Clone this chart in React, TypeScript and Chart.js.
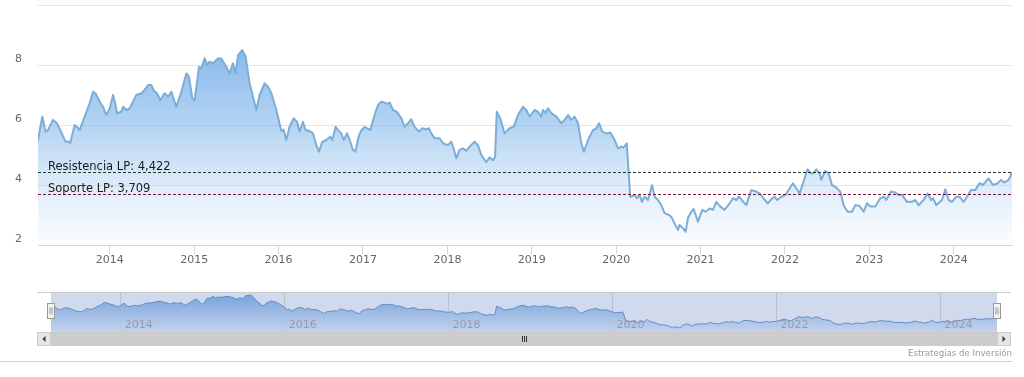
import React, { useEffect, useRef } from "react";
import { Chart, registerables } from "chart.js";

Chart.register(...registerables);

// Closing prices: [month of year (0-12), price]
const p2013: [number, number][] = [[1.79,5.50],[2.40,6.28],[2.87,5.78],[3.21,5.83],[3.92,6.17],[4.49,6.06],[5.11,5.75],[5.72,5.44],[6.10,5.45],[6.38,5.40],[7.00,6.00],[7.48,5.90],[7.71,5.83],[8.42,6.28],[9.13,6.72],[9.61,7.11],[9.98,7.05],[10.55,6.78],[11.03,6.61],[11.50,6.33]];
const p2014: [number, number][] = [[0.0,6.56],[0.46,7.00],[0.78,6.72],[1.02,6.39],[1.63,6.44],[1.88,6.61],[2.35,6.50],[2.82,6.55],[3.30,6.78],[3.77,7.00],[4.48,7.06],[4.95,7.17],[5.43,7.33],[5.90,7.33],[6.37,7.11],[6.71,7.06],[7.18,6.83],[7.79,7.06],[8.28,6.94],[8.75,7.11],[9.46,6.61],[10.17,7.11],[10.88,7.72],[11.26,7.61],[11.73,6.89]];
const p2015: [number, number][] = [[0.06,6.83],[0.68,7.94],[1.01,7.89],[1.48,8.22],[1.86,8.00],[2.19,8.11],[2.67,8.06],[3.38,8.22],[3.85,8.22],[4.56,7.94],[5.03,7.72],[5.51,8.06],[5.89,7.72],[6.23,8.33],[6.84,8.50],[7.31,8.28],[7.88,7.39],[8.36,6.94],[8.83,6.50],[9.30,7.00],[10.01,7.39],[10.50,7.28],[10.97,7.06],[11.68,6.50]];
const p2016: [number, number][] = [[0.38,5.80],[0.71,5.85],[1.09,5.50],[1.56,5.94],[2.13,6.22],[2.62,6.11],[2.99,5.78],[3.47,6.11],[3.84,5.83],[4.41,5.80],[4.89,5.72],[5.36,5.33],[5.74,5.11],[6.21,5.44],[6.78,5.50],[7.35,5.61],[7.64,5.50],[8.11,5.94],[8.45,5.83],[8.92,5.72],[9.25,5.50],[9.73,5.72],[10.10,5.50],[10.58,5.17],[10.91,5.11],[11.44,5.67],[11.81,5.83]];
const p2017: [number, number][] = [[0.23,5.94],[1.04,5.83],[1.65,6.33],[2.13,6.67],[2.60,6.78],[3.07,6.75],[3.41,6.70],[3.78,6.75],[4.27,6.50],[4.83,6.44],[5.45,6.22],[5.92,5.94],[6.40,6.06],[6.87,6.19],[7.34,5.94],[7.96,5.78],[8.43,5.89],[8.91,5.85],[9.39,5.89],[9.71,5.72],[10.18,5.56],[10.89,5.56],[11.38,5.39]];
const p2018: [number, number][] = [[0.09,5.33],[0.55,5.44],[0.80,5.28],[1.27,4.89],[1.73,5.17],[2.22,5.22],[2.69,5.14],[3.16,5.28],[3.87,5.44],[4.35,5.33],[4.82,5.00],[5.53,4.76],[6.00,4.92],[6.48,4.83],[6.78,4.92],[7.02,6.44],[7.52,6.22],[8.13,5.72],[8.84,5.89],[9.41,5.94],[10.03,6.33],[10.74,6.61],[11.21,6.50],[11.69,6.28]];
const p2019: [number, number][] = [[0.40,6.50],[0.88,6.44],[1.35,6.28],[1.59,6.50],[1.96,6.40],[2.30,6.56],[2.77,6.40],[3.48,6.28],[4.19,6.06],[4.66,6.17],[5.15,6.33],[5.62,6.17],[6.09,6.28],[6.57,6.06],[7.04,5.39],[7.42,5.11],[7.99,5.50],[8.70,5.83],[9.17,5.89],[9.56,6.06],[10.03,5.78],[10.60,5.72],[11.17,5.75],[11.78,5.50]];
const p2020: [number, number][] = [[0.26,5.22],[0.73,5.28],[1.05,5.25],[1.50,5.39],[2.00,3.60],[2.62,3.67],[2.96,3.56],[3.33,3.67],[3.67,3.44],[4.04,3.61],[4.52,3.50],[5.09,4.00],[5.46,3.61],[5.94,3.50],[6.41,3.33],[6.88,3.06],[7.50,3.00],[7.83,2.94],[8.30,2.72],[8.79,2.50],[9.01,2.67],[9.50,2.56],[9.87,2.44],[10.21,2.90],[10.68,3.11],[11.01,3.20],[11.64,2.78]];
const p2021: [number, number][] = [[0.24,3.17],[0.71,3.11],[1.28,3.22],[1.76,3.17],[2.23,3.44],[2.80,3.28],[3.41,3.17],[4.12,3.39],[4.61,3.56],[5.08,3.50],[5.46,3.61],[6.03,3.45],[6.50,3.33],[7.21,3.83],[7.68,3.80],[8.39,3.72],[8.96,3.55],[9.55,3.39],[10.18,3.55],[10.51,3.61],[10.89,3.50],[11.46,3.60]];
const p2022: [number, number][] = [[0.04,3.67],[0.51,3.83],[1.14,4.06],[1.61,3.89],[2.08,3.72],[2.56,4.06],[3.21,4.52],[3.70,4.39],[4.07,4.39],[4.45,4.52],[4.92,4.39],[5.16,4.17],[5.73,4.47],[6.20,4.39],[6.68,4.00],[7.15,3.94],[7.86,3.78],[8.33,3.33],[8.90,3.11],[9.53,3.11],[10.00,3.33],[10.61,3.30],[11.18,3.11],[11.67,3.39]];
const p2023: [number, number][] = [[0.13,3.28],[0.84,3.28],[1.55,3.56],[2.12,3.61],[2.40,3.50],[3.07,3.78],[3.68,3.75],[4.15,3.67],[4.64,3.67],[5.35,3.44],[6.06,3.44],[6.53,3.50],[7.00,3.33],[7.71,3.50],[8.28,3.72],[8.77,3.50],[9.04,3.56],[9.51,3.33],[10.32,3.50],[10.80,3.86],[11.27,3.50],[11.74,3.44]];
const p2024: [number, number][] = [[0.36,3.61],[0.82,3.61],[1.39,3.44],[1.88,3.61],[2.45,3.83],[3.06,3.83],[3.67,4.06],[4.15,4.00],[4.95,4.22],[5.58,4.00],[6.23,4.06],[6.71,4.17],[7.18,4.08],[7.80,4.17],[8.28,4.42]];

const years = [2013, 2014, 2015, 2016, 2017, 2018, 2019, 2020, 2021, 2022, 2023, 2024];
const yearlyPrices = [p2013, p2014, p2015, p2016, p2017, p2018, p2019, p2020, p2021, p2022, p2023, p2024];

const yearTicks = [2014, 2015, 2016, 2017, 2018, 2019, 2020, 2021, 2022, 2023, 2024];
const navigatorTicks = [2014, 2016, 2018, 2020, 2022, 2024];
const priceTicks = [2, 4, 6, 8, 10];

const resistance = 4.422;
const support = 3.709;
const resistanceLabel = "Resistencia LP";
const supportLabel = "Soporte LP";
const creditText = "Estrategias de Inversión";

const FONT = '"DejaVu Sans", Verdana, sans-serif';

function buildPoints() {
  const pts: { x: number; y: number }[] = [];
  years.forEach((yr, i) => {
    yearlyPrices[i].forEach(([m, v]) => pts.push({ x: yr + m / 12, y: v }));
  });
  return pts;
}

function fmt(v: number) {
  return v.toFixed(3).replace(".", ",");
}

const levelsPlugin = {
  id: "levels",
  afterDatasetsDraw(chart: any) {
    const { ctx, chartArea, scales } = chart;
    const y = scales.y;
    const draw = (v: number, color: string, text: string) => {
      const py = Math.round(y.getPixelForValue(v)) + 0.5;
      ctx.save();
      ctx.strokeStyle = color;
      ctx.lineWidth = 1;
      ctx.setLineDash([3, 2]);
      ctx.beginPath();
      ctx.moveTo(chartArea.left, py);
      ctx.lineTo(chartArea.right, py);
      ctx.stroke();
      ctx.setLineDash([]);
      ctx.fillStyle = "#1a1a1a";
      ctx.font = `11.5px ${FONT}`;
      ctx.textAlign = "left";
      ctx.textBaseline = "alphabetic";
      ctx.fillText(`${text}: ${fmt(v)}`, chartArea.left + 10, py - 3);
      ctx.restore();
    };
    draw(resistance, "#1f3a2c", resistanceLabel);
    draw(support, "#7a1235", supportLabel);
  },
};

const navigatorPlugin = {
  id: "navigatorDecor",
  afterDatasetsDraw(chart: any) {
    const { ctx, chartArea: a, scales } = chart;
    const x = scales.x;
    ctx.save();
    ctx.font = `11px ${FONT}`;
    ctx.fillStyle = "#a8a8a8";
    ctx.textAlign = "left";
    ctx.textBaseline = "alphabetic";
    navigatorTicks.forEach((t) => {
      ctx.fillText(String(t), x.getPixelForValue(t) + 4, a.bottom - 4);
    });
    ctx.fillStyle = "rgba(102,133,194,0.3)";
    ctx.fillRect(a.left, a.top, a.right - a.left, a.bottom - a.top);
    ctx.restore();
  },
  afterDraw(chart: any) {
    const { ctx, chartArea: a } = chart;
    const left = a.left - 14;
    const right = a.right + 14;
    ctx.save();
    ctx.strokeStyle = "#cccccc";
    ctx.lineWidth = 1;
    ctx.beginPath();
    ctx.moveTo(left, a.top + 0.5);
    ctx.lineTo(right, a.top + 0.5);
    ctx.stroke();
    const sTop = a.bottom;
    const sH = 14;
    ctx.fillStyle = "#f2f2f2";
    ctx.fillRect(left, sTop, right - left, sH);
    ctx.fillStyle = "#cccccc";
    ctx.fillRect(a.left, sTop, a.right - a.left, sH);
    const drawButton = (bx: number, dir: number) => {
      ctx.fillStyle = "#e6e6e6";
      ctx.fillRect(bx, sTop, 14, sH);
      ctx.strokeStyle = "#cccccc";
      ctx.strokeRect(bx + 0.5, sTop + 0.5, 13, sH - 1);
      ctx.fillStyle = "#333333";
      const cx = bx + 7;
      const cy = sTop + 7;
      ctx.beginPath();
      ctx.moveTo(cx - 1.5 * dir, cy);
      ctx.lineTo(cx + 1.5 * dir, cy - 3);
      ctx.lineTo(cx + 1.5 * dir, cy + 3);
      ctx.closePath();
      ctx.fill();
    };
    drawButton(left, 1);
    drawButton(a.right, -1);
    const gx = Math.round((a.left + a.right) / 2);
    ctx.strokeStyle = "#333333";
    for (let k = -2; k <= 2; k += 2) {
      ctx.beginPath();
      ctx.moveTo(gx + k + 0.5, sTop + 4);
      ctx.lineTo(gx + k + 0.5, sTop + 10);
      ctx.stroke();
    }
    const drawHandle = (hx: number) => {
      const hl = Math.round(hx) - 3.5;
      const ht = a.top + 11.5;
      ctx.fillStyle = "#f2f2f2";
      ctx.fillRect(hl, ht, 7, 15);
      ctx.strokeStyle = "#999999";
      ctx.strokeRect(hl, ht, 7, 15);
      ctx.beginPath();
      ctx.moveTo(hl + 2.5, ht + 4);
      ctx.lineTo(hl + 2.5, ht + 11);
      ctx.moveTo(hl + 4.5, ht + 4);
      ctx.lineTo(hl + 4.5, ht + 11);
      ctx.stroke();
    };
    drawHandle(a.left);
    drawHandle(a.right);
    ctx.fillStyle = "#999999";
    ctx.font = `8.6px ${FONT}`;
    ctx.textAlign = "right";
    ctx.textBaseline = "alphabetic";
    ctx.fillText(creditText, right + 1, sTop + 24);
    ctx.strokeStyle = "#cfd3da";
    ctx.beginPath();
    ctx.moveTo(0, sTop + 29.5);
    ctx.lineTo(right + 1, sTop + 29.5);
    ctx.stroke();
    ctx.restore();
  },
};

export default function App() {
  const mainRef = useRef<HTMLCanvasElement>(null);
  const navRef = useRef<HTMLCanvasElement>(null);

  useEffect(() => {
    const points = buildPoints();
    const xMin = points[0].x;
    const xMax = points[points.length - 1].x;

    const main = new Chart(mainRef.current as HTMLCanvasElement, {
      type: "line",
      data: {
        datasets: [
          {
            data: points,
            borderColor: "#7aaed9",
            borderWidth: 2,
            borderJoinStyle: "round",
            pointRadius: 0,
            fill: "start",
            tension: 0,
            backgroundColor: (c: any) => {
              const { ctx, chartArea } = c.chart;
              if (!chartArea) return "rgba(124,181,236,0.5)";
              const g = ctx.createLinearGradient(0, chartArea.top, 0, chartArea.bottom);
              g.addColorStop(0, "rgba(100,163,226,0.95)");
              g.addColorStop(0.5, "rgba(118,176,232,0.55)");
              g.addColorStop(1, "rgba(160,200,240,0.04)");
              return g;
            },
          } as any,
        ],
      },
      options: {
        animation: false,
        responsive: false,
        devicePixelRatio: 1,
        events: [],
        layout: { padding: { top: 5, right: 12, bottom: 0, left: 0 } },
        plugins: { legend: { display: false }, tooltip: { enabled: false } },
        scales: {
          x: {
            type: "linear",
            min: xMin,
            max: xMax,
            afterBuildTicks: (s: any) => {
              s.ticks = yearTicks.map((v) => ({ value: v }));
            },
            afterFit: (s: any) => {
              s.height = 35;
              s.paddingLeft = 0;
              s.paddingRight = 0;
            },
            grid: { display: true, drawOnChartArea: false, drawTicks: true, tickLength: 9, color: "#ccd6eb" },
            border: { display: true, color: "#ccd6eb" },
            ticks: {
              padding: 0,
              color: "#666666",
              font: { family: FONT, size: 11 },
              maxRotation: 0,
              autoSkip: false,
              callback: (v: any) => String(v),
            },
          },
          y: {
            type: "linear",
            min: priceTicks[0],
            max: priceTicks[priceTicks.length - 1],
            afterBuildTicks: (s: any) => {
              s.ticks = priceTicks.map((v) => ({ value: v }));
            },
            afterFit: (s: any) => {
              s.width = 38;
              s.paddingTop = 0;
              s.paddingBottom = 0;
            },
            grid: { color: "#e6e6e6", drawTicks: false },
            border: { display: false },
            ticks: {
              padding: 16,
              labelOffset: -6,
              color: "#666666",
              font: { family: FONT, size: 11 },
              callback: (v: any) => (v === priceTicks[priceTicks.length - 1] ? "" : String(v)),
            },
          },
        },
      } as any,
      plugins: [levelsPlugin],
    });

    const nav = new Chart(navRef.current as HTMLCanvasElement, {
      type: "line",
      data: {
        datasets: [
          {
            data: points,
            borderColor: "#5f8fcc",
            borderWidth: 1,
            pointRadius: 0,
            fill: "start",
            tension: 0,
            backgroundColor: (c: any) => {
              const { ctx, chartArea } = c.chart;
              if (!chartArea) return "rgba(124,181,236,0.5)";
              const g = ctx.createLinearGradient(0, chartArea.top, 0, chartArea.bottom);
              g.addColorStop(0, "rgba(110,168,228,0.95)");
              g.addColorStop(1, "rgba(235,242,252,0.9)");
              return g;
            },
          } as any,
        ],
      },
      options: {
        animation: false,
        responsive: false,
        devicePixelRatio: 1,
        events: [],
        layout: { padding: { top: 12, right: 27, bottom: 45, left: 51 } },
        plugins: { legend: { display: false }, tooltip: { enabled: false } },
        scales: {
          x: {
            type: "linear",
            min: xMin,
            max: xMax,
            afterBuildTicks: (s: any) => {
              s.ticks = navigatorTicks.map((v) => ({ value: v }));
            },
            afterFit: (s: any) => {
              s.height = 0;
              s.paddingLeft = 0;
              s.paddingRight = 0;
            },
            grid: { display: true, drawTicks: false, drawOnChartArea: true, color: "#dcdcdc" },
            border: { display: false },
            ticks: { display: false },
          },
          y: { type: "linear", display: false, min: 1.7, max: 9.05 },
        },
      } as any,
      plugins: [navigatorPlugin],
    });

    return () => {
      main.destroy();
      nav.destroy();
    };
  }, []);

  return (
    <div style={{ position: "absolute", left: 0, top: 0, width: 1024, height: 377, background: "#ffffff" }}>
      <canvas ref={mainRef} width={1024} height={280} style={{ position: "absolute", left: 0, top: 0 }} />
      <canvas ref={navRef} width={1024} height={97} style={{ position: "absolute", left: 0, top: 280 }} />
    </div>
  );
}
